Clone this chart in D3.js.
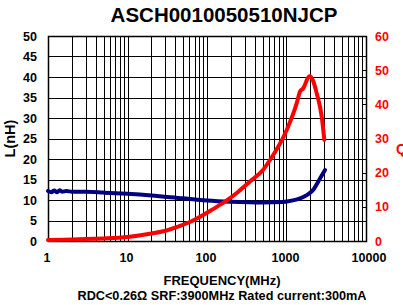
<!DOCTYPE html>
<html>
<head>
<meta charset="utf-8">
<script src="https://cdn.jsdelivr.net/npm/d3@7"></script>
<style>
  body { margin: 0; background: #fff; }
  text { font-family: "Liberation Sans", Arial, sans-serif; font-weight: bold; }
</style>
</head>
<body>
<div id="chart"></div>
<script>
// Inductance readings (MHz, nH)
const lFreq = [1, 1.1, 1.2, 1.3, 1.4, 1.5, 1.7, 2, 3, 5, 10, 20, 50, 100, 200, 500, 900, 1200, 1480, 1800, 2150, 2650, 3050];
const lValue = [12.2, 11.9, 12.3, 11.9, 12.4, 12.0, 12.2, 12.0, 12.0, 11.8, 11.5, 11.1, 10.4, 9.9, 9.6, 9.4, 9.5, 9.9, 10.4, 11.2, 12.4, 15.3, 17.3];

// Q readings (MHz, Q)
const qFreq = [1, 2, 3, 5, 10, 20, 30, 43, 60, 82, 115, 168, 250, 350, 506, 620, 1006, 1343, 1479, 1627, 1935, 2150, 2400, 2773, 2990];
const qValue = [0.3, 0.45, 0.55, 0.75, 1.2, 2.2, 3.0, 4.2, 5.5, 7.1, 9.1, 11.5, 14.5, 17.5, 20.8, 23.7, 32.5, 40.3, 43.7, 44.7, 48.2, 47.0, 43.2, 36.4, 29.6];

// Tick labels
const xTicks = [1, 10, 100, 1000, 10000];
const lTicks = [0, 5, 10, 15, 20, 25, 30, 35, 40, 45, 50];
const qTicks = [0, 10, 20, 30, 40, 50, 60];

const width = 403, height = 305;
const margin = {top: 36, right: 37, bottom: 64, left: 48};
const plotW = width - margin.left - margin.right;
const plotH = height - margin.top - margin.bottom;

const svg = d3.select("#chart").append("svg")
    .attr("width", width)
    .attr("height", height);

const x = d3.scaleLog().domain([1, 10000]).range([0, plotW]);
const yL = d3.scaleLinear().domain([0, 50]).range([plotH, 0]);
const yQ = d3.scaleLinear().domain([0, 60]).range([plotH, 0]);

const g = svg.append("g")
    .attr("transform", "translate(" + margin.left + "," + margin.top + ")");

//Vertical grid at every minor log step
let gridX = [];
for (let d = 1; d < 10000; d *= 10)
    for (let k = 1; k < 10; k++) gridX.push(d * k);
gridX.push(10000);

g.selectAll(".vgrid").data(gridX).enter().append("line")
    .attr("x1", d => Math.round(x(d)) + 0.5)
    .attr("x2", d => Math.round(x(d)) + 0.5)
    .attr("y1", 0).attr("y2", plotH)
    .attr("stroke", "#000").attr("stroke-width", 1);

//Horizontal grid
g.selectAll(".hgrid").data(lTicks).enter().append("line")
    .attr("x1", 0).attr("x2", plotW)
    .attr("y1", d => Math.round(yL(d)) + 0.5)
    .attr("y2", d => Math.round(yL(d)) + 0.5)
    .attr("stroke", "#000").attr("stroke-width", 1);

//Border
g.append("rect")
    .attr("x", 0.5).attr("y", 0.5)
    .attr("width", plotW).attr("height", plotH)
    .attr("fill", "none").attr("stroke", "#000").attr("stroke-width", 1.5);

//Right axis inward ticks
g.selectAll(".qtick").data(qTicks).enter().append("line")
    .attr("x1", plotW - 4).attr("x2", plotW)
    .attr("y1", d => Math.round(yQ(d)) + 0.5)
    .attr("y2", d => Math.round(yQ(d)) + 0.5)
    .attr("stroke", "#000");

//Curves
const lineL = d3.line()
    .x((d, i) => x(lFreq[i]))
    .y(d => yL(d))
    .curve(d3.curveMonotoneX);

const lineQ = d3.line()
    .x((d, i) => x(qFreq[i]))
    .y(d => yQ(d))
    .curve(d3.curveMonotoneX);

g.append("path").datum(lValue)
    .attr("d", lineL)
    .attr("fill", "none").attr("stroke", "#000080")
    .attr("stroke-width", 4).attr("stroke-linecap", "round");

g.append("path").datum(qValue)
    .attr("d", lineQ)
    .attr("fill", "none").attr("stroke", "#ff0000")
    .attr("stroke-width", 4).attr("stroke-linecap", "round");

//Tick labels
g.selectAll(".lLab").data(lTicks).enter().append("text")
    .attr("x", -11).attr("y", d => yL(d) + 4.5)
    .attr("text-anchor", "end")
    .attr("font-size", 12.5)
    .text(d => d);

g.selectAll(".qLab").data(qTicks).enter().append("text")
    .attr("x", plotW + 9).attr("y", d => yQ(d) + 4.5)
    .attr("text-anchor", "start")
    .attr("font-size", 12.5)
    .attr("fill", "#ff0000")
    .text(d => d);

g.selectAll(".xLab").data(xTicks).enter().append("text")
    .attr("x", d => x(d) + (d === 10000 ? 3 : -1)).attr("y", plotH + 21)
    .attr("text-anchor", "middle")
    .attr("font-size", 12.5)
    .text(d => d);

//Titles
svg.append("text")
    .attr("x", 224).attr("y", 22)
    .attr("text-anchor", "middle")
    .attr("font-size", 20.5)
    .text("ASCH0010050510NJCP");

svg.append("text")
    .attr("transform", "translate(15," + (margin.top + plotH / 2) + ") rotate(-90)")
    .attr("text-anchor", "middle")
    .attr("font-size", 14.5)
    .text("L(nH)");

svg.append("text")
    .attr("x", 396).attr("y", 154)
    .attr("font-size", 14)
    .attr("fill", "#ff0000")
    .text("Q");

svg.append("text")
    .attr("x", 222).attr("y", 285)
    .attr("text-anchor", "middle")
    .attr("font-size", 13)
    .text("FREQUENCY(MHz)");

svg.append("text")
    .attr("x", 222).attr("y", 299.5)
    .attr("text-anchor", "middle")
    .attr("font-size", 12.7)
    .text("RDC<0.26Ω SRF:3900MHz Rated current:300mA");
</script>
</body>
</html>
